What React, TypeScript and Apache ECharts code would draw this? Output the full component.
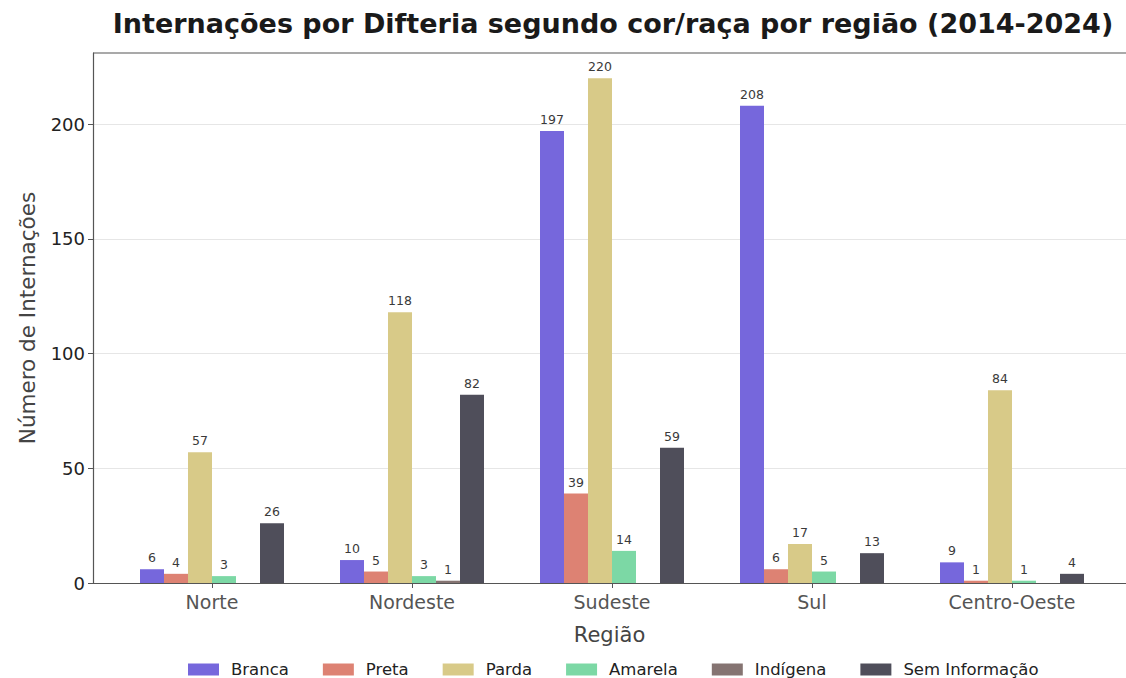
import React, { useEffect, useRef } from "react";
import * as echarts from "echarts";

const regions = ["Norte", "Nordeste", "Sudeste", "Sul", "Centro-Oeste"];
const raceNames = ["Branca", "Preta", "Parda", "Amarela", "Indígena", "Sem Informação"];
const branca = [6, 10, 197, 208, 9];
const preta = [4, 5, 39, 6, 1];
const parda = [57, 118, 220, 17, 84];
const amarela = [3, 3, 14, 5, 1];
const indigena = [0, 1, 0, 0, 0];
const semInfo = [26, 82, 59, 13, 4];
const yTicks = [0, 50, 100, 150, 200];
const colors = ["#7667dc", "#dd8273", "#d8ca88", "#7cd8a5", "#857472", "#4f4e5a"];

const FONT = "DejaVu Sans";

export default function App() {
  const ref = useRef<HTMLDivElement>(null);
  useEffect(() => {
    document.body.style.margin = "0";
    if (!ref.current) return;
    const chart = echarts.init(ref.current, null, { renderer: "svg" });
    const seriesData = [branca, preta, parda, amarela, indigena, semInfo];
    const yMax = 231;
    chart.setOption({
      animation: false,
      textStyle: { fontFamily: FONT },
      title: {
        text: "Internações por Difteria segundo cor/raça por região (2014-2024)",
        left: 608,
        textAlign: "center",
        top: 5,
        textStyle: { fontFamily: FONT, fontWeight: "bold", fontSize: 27, color: "#1a1a1a" },
      },
      legend: {
        top: 659,
        left: 183,
        padding: [2, 5, 2, 5],
        itemWidth: 31,
        itemHeight: 12,
        itemGap: 34,
        icon: "rect",
        textStyle: { fontFamily: FONT, fontSize: 16.5, color: "#222", padding: [0, 0, 0, 7] },
        data: raceNames,
      },
      grid: [
        { left: 93, top: 53, width: 1038, bottom: 95 },
        { left: 112, top: 53, width: 1000, bottom: 95 },
      ],
      xAxis: [
        {
          type: "value",
          gridIndex: 0,
          min: 0,
          max: 1,
          axisLine: { show: true, onZero: false, lineStyle: { color: "#555", width: 1.2 } },
          axisTick: { show: false },
          axisLabel: { show: false },
          splitLine: { show: false },
          name: "Região",
          nameLocation: "middle",
          nameGap: 41,
          nameTextStyle: { fontFamily: FONT, fontSize: 21, color: "#444" },
        },
        {
          type: "category",
          gridIndex: 1,
          data: regions,
          axisLine: { show: false },
          axisTick: { show: true, alignWithLabel: true, length: 5, lineStyle: { color: "#555" } },
          axisLabel: { fontFamily: FONT, fontSize: 19, color: "#555", margin: 9 },
        },
      ],
      yAxis: [
        {
          type: "value",
          gridIndex: 0,
          min: 0,
          max: yMax,
          interval: 50,
          axisLine: { show: true, lineStyle: { color: "#555", width: 1.2 } },
          axisTick: { show: true, length: 5, lineStyle: { color: "#555" }, customValues: yTicks },
          axisLabel: {
            fontFamily: FONT,
            fontSize: 18,
            color: "#222",
            margin: 8,
            customValues: yTicks,
          },
          splitLine: { show: true, lineStyle: { color: "#e6e6e6", width: 1 } },
          name: "Número de Internações",
          nameLocation: "middle",
          nameGap: 55,
          nameTextStyle: { fontFamily: FONT, fontSize: 21.5, color: "#444" },
        },
        {
          type: "value",
          gridIndex: 1,
          min: 0,
          max: yMax,
          show: false,
          splitLine: { show: false },
        },
      ],
      graphic: [
        {
          type: "line",
          shape: { x1: 93, y1: 53, x2: 1131, y2: 53 },
          style: { stroke: "#555", lineWidth: 1.2 },
        },
      ],
      series: seriesData.map((d, i) => ({
        name: raceNames[i],
        type: "bar",
        xAxisIndex: 1,
        yAxisIndex: 1,
        data: d,
        barWidth: 24,
        barGap: "0%",
        itemStyle: { color: colors[i] },
        label: {
          show: true,
          position: "top",
          distance: 5,
          fontFamily: FONT,
          fontSize: 12.5,
          color: "#3a3a3a",
          formatter: (p: any) => (p.value === 0 ? "" : String(p.value)),
        },
      })),
    });
    return () => chart.dispose();
  }, []);
  return <div ref={ref} style={{ width: 1126, height: 678 }} />;
}
